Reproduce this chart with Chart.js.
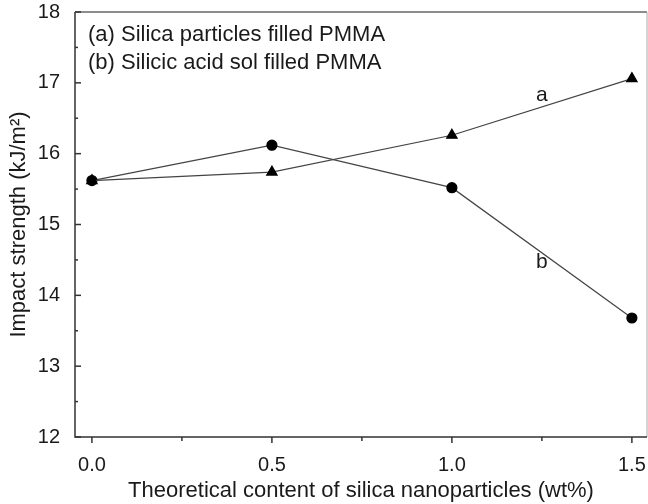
<!DOCTYPE html>
<html>
<head>
<meta charset="utf-8">
<script src="https://cdn.jsdelivr.net/npm/chart.js@4.4.0/dist/chart.umd.min.js"></script>
<style>
  html, body { margin: 0; padding: 0; background: #fff; }
  #wrap { width: 648px; height: 504px; }
</style>
</head>
<body>
<div id="wrap"><canvas id="grafico" width="648" height="504"></canvas></div>
<script>
// datos
const contenido = [0, 0.5, 1.0, 1.5];
const serieA = [15.62, 15.74, 16.26, 17.06]; // (a) particulas de silice
const serieB = [15.62, 16.12, 15.52, 13.68]; // (b) sol de acido silicico
const ticksX = [0, 0.5, 1.0, 1.5];
const ticksXMenores = [0.25, 0.75, 1.25];
const ticksY = [12, 13, 14, 15, 16, 17, 18];
const ticksYMenores = [12.5, 13.5, 14.5, 15.5, 16.5, 17.5];
const leyenda = ['(a) Silica particles filled PMMA', '(b) Silicic acid sol filled PMMA'];
const etiquetas = [{ texto: 'a', x: 1.25, y: 16.82 }, { texto: 'b', x: 1.25, y: 14.47 }];

const fuente = '"Liberation Sans", Arial, sans-serif';

function puntos(valores) {
    return contenido.map((x, i) => ({ x: x, y: valores[i] }));
}

// ejes, marcas y textos
const decoracion = {
    id: 'decoracion',
    afterDraw(chart) {
        const ctx = chart.ctx;
        const a = chart.chartArea;
        const ex = chart.scales.x;
        const ey = chart.scales.y;
        ctx.save();

        // marco
        ctx.lineWidth = 1.5;
        ctx.strokeStyle = '#666';
        ctx.beginPath(); ctx.moveTo(a.left, a.top); ctx.lineTo(a.right, a.top); ctx.stroke();
        ctx.lineWidth = 1;
        ctx.strokeStyle = '#aaa';
        ctx.beginPath(); ctx.moveTo(a.right, a.top); ctx.lineTo(a.right, a.bottom); ctx.stroke();
        ctx.lineWidth = 1.5;
        ctx.strokeStyle = '#333';
        ctx.beginPath();
        ctx.moveTo(a.left, a.top); ctx.lineTo(a.left, a.bottom); ctx.lineTo(a.right, a.bottom);
        ctx.stroke();

        // marcas eje x (hacia fuera)
        ticksX.forEach(v => {
            const px = ex.getPixelForValue(v);
            ctx.beginPath(); ctx.moveTo(px, a.bottom); ctx.lineTo(px, a.bottom + 6); ctx.stroke();
        });
        ticksXMenores.forEach(v => {
            const px = ex.getPixelForValue(v);
            ctx.beginPath(); ctx.moveTo(px, a.bottom); ctx.lineTo(px, a.bottom + 4); ctx.stroke();
        });
        // marcas eje y (hacia dentro)
        ticksY.forEach(v => {
            const py = ey.getPixelForValue(v);
            ctx.beginPath(); ctx.moveTo(a.left, py); ctx.lineTo(a.left + 6, py); ctx.stroke();
        });
        ticksYMenores.forEach(v => {
            const py = ey.getPixelForValue(v);
            ctx.beginPath(); ctx.moveTo(a.left, py); ctx.lineTo(a.left + 3, py); ctx.stroke();
        });

        ctx.fillStyle = '#1a1a1a';
        // titulos de ejes
        ctx.font = '22px ' + fuente;
        ctx.textAlign = 'center';
        ctx.textBaseline = 'middle';
        ctx.fillText('Theoretical content of silica nanoparticles (wt%)', (a.left + a.right) / 2, 491);
        ctx.save();
        ctx.translate(19, (a.top + a.bottom) / 2);
        ctx.rotate(-Math.PI / 2);
        ctx.fillText('Impact strength (kJ/m\u00B2)', 0, 0);
        ctx.restore();

        // leyenda de texto
        ctx.textAlign = 'left';
        leyenda.forEach((t, i) => ctx.fillText(t, a.left + 13, 35 + i * 28));

        // etiquetas a y b
        ctx.font = '21px ' + fuente;
        etiquetas.forEach(e => {
            ctx.textAlign = 'center';
            ctx.fillText(e.texto, ex.getPixelForValue(e.x), ey.getPixelForValue(e.y));
        });
        ctx.restore();
    }
};

const ctx = document.getElementById('grafico').getContext('2d');
const chart = new Chart(ctx, {
    type: 'line',
    data: {
        datasets: [
            {
                label: 'a',
                data: puntos(serieA),
                borderColor: '#444',
                borderWidth: 1.2,
                pointStyle: 'triangle',
                pointRadius: 6,
                pointBackgroundColor: '#000',
                pointBorderColor: '#000',
                fill: false
            },
            {
                label: 'b',
                data: puntos(serieB),
                borderColor: '#444',
                borderWidth: 1.2,
                pointStyle: 'circle',
                pointRadius: 5,
                pointBackgroundColor: '#000',
                pointBorderColor: '#000',
                fill: false
            }
        ]
    },
    options: {
        responsive: false,
        animation: false,
        layout: { autoPadding: false, padding: { top: 12, right: 1, left: 0, bottom: 0 } },
        plugins: {
            legend: { display: false },
            tooltip: { enabled: false }
        },
        scales: {
            x: {
                type: 'linear',
                min: -0.047,
                max: 1.542,
                grid: { display: false },
                border: { display: false },
                afterBuildTicks: s => { s.ticks = ticksX.map(v => ({ value: v })); },
                afterFit: s => { s.height = 67; s.paddingLeft = 0; s.paddingRight = 0; },
                ticks: {
                    padding: 8,
                    color: '#1a1a1a',
                    font: { family: fuente, size: 20 },
                    maxRotation: 0,
                    callback: v => v.toFixed(1)
                }
            },
            y: {
                min: 12,
                max: 18,
                grid: { display: false },
                border: { display: false },
                afterBuildTicks: s => { s.ticks = ticksY.map(v => ({ value: v })); },
                afterFit: s => { s.width = 75; s.paddingTop = 0; s.paddingBottom = 0; },
                ticks: {
                    padding: 7,
                    color: '#1a1a1a',
                    font: { family: fuente, size: 20 },
                    callback: v => String(v)
                }
            }
        }
    },
    plugins: [decoracion]
});
</script>
</body>
</html>
